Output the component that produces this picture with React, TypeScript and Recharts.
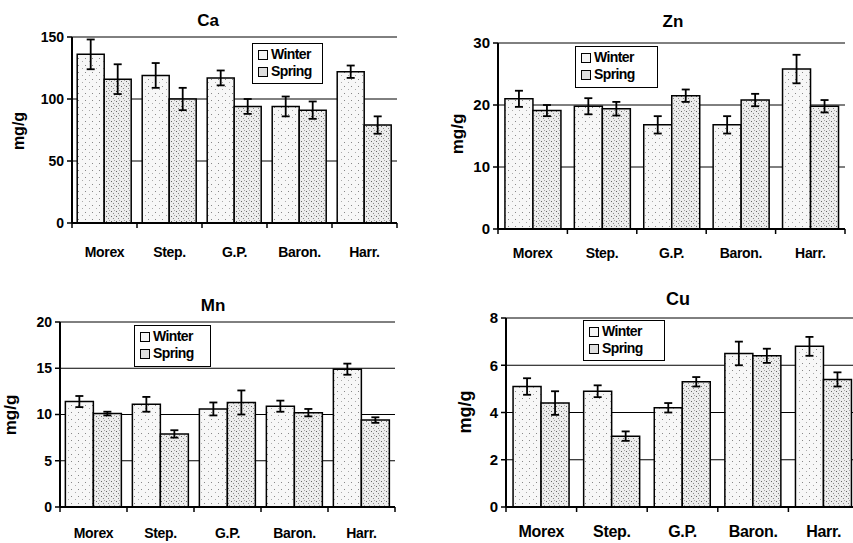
import React from 'react';
import { Bar, BarChart, CartesianGrid, ErrorBar, Legend, XAxis, YAxis } from 'recharts';

const CULTIVARS = ['Morex', 'Step.', 'G.P.', 'Baron.', 'Harr.'];
const SEASONS = ['Winter', 'Spring'];

const CA_WINTER = [136, 119, 117, 94, 122];
const CA_WINTER_ERR = [12, 10, 6, 8, 5];
const CA_SPRING = [116, 100, 94, 91, 79];
const CA_SPRING_ERR = [12, 9, 6, 7, 7];

const ZN_WINTER = [21, 19.8, 16.8, 16.8, 25.8];
const ZN_WINTER_ERR = [1.3, 1.3, 1.4, 1.4, 2.3];
const ZN_SPRING = [19.1, 19.4, 21.5, 20.8, 19.8];
const ZN_SPRING_ERR = [0.9, 1.1, 1.0, 1.0, 1.0];

const MN_WINTER = [11.4, 11.1, 10.6, 10.9, 14.9];
const MN_WINTER_ERR = [0.6, 0.8, 0.7, 0.6, 0.6];
const MN_SPRING = [10.1, 7.9, 11.3, 10.2, 9.4];
const MN_SPRING_ERR = [0.2, 0.4, 1.3, 0.4, 0.3];

const CU_WINTER = [5.1, 4.9, 4.2, 6.5, 6.8];
const CU_WINTER_ERR = [0.35, 0.25, 0.2, 0.5, 0.4];
const CU_SPRING = [4.4, 3.0, 5.3, 6.4, 5.4];
const CU_SPRING_ERR = [0.5, 0.2, 0.2, 0.3, 0.3];

const CA_TICKS = [0, 50, 100, 150];
const ZN_TICKS = [0, 10, 20, 30];
const MN_TICKS = [0, 5, 10, 15, 20];
const CU_TICKS = [0, 2, 4, 6, 8];

const FONT = '"Liberation Sans", Arial, sans-serif';
const WINTER_SWATCH = '#f4f4f4';
const SPRING_SWATCH = '#dedede';

type PanelProps = {
    title: string;
    winter: number[];
    winterErr: number[];
    spring: number[];
    springErr: number[];
    yTicks: number[];
    left: number;
    top: number;
    width: number;
    height: number;
    plotLeft: number;
    plotRight: number;
    plotTop: number;
    plotBottom: number;
    tickFont: number;
    xFont: number;
    xLabelOffset: number;
    titleFont: number;
    titlePos: [number, number];
    yLabelFont: number;
    yLabelPos: [number, number];
    legendBox: [number, number, number, number];
    gap: string;
};

const CultivarTick = (props: any) => {
    const { x, y, payload, index, fontSize, offsetY } = props;
    const half = payload.offset || 0;
    return (
        <g>
            <line x1={x - half} x2={x - half} y1={y} y2={y + 5} stroke="#000" strokeWidth={1.5} />
            {index === CULTIVARS.length - 1 && (
                <line x1={x + half} x2={x + half} y1={y} y2={y + 5} stroke="#000" strokeWidth={1.5} />
            )}
            <text x={x} y={y + offsetY} textAnchor="middle" fontSize={fontSize} fontWeight="bold"
                fontFamily={FONT} fill="#000" letterSpacing={-0.3}>
                {payload.value}
            </text>
        </g>
    );
};

const LegendBox = ({ payload }: any) => {
    const items = [...(payload || [])].sort(
        (a: any, b: any) => SEASONS.indexOf(a.value) - SEASONS.indexOf(b.value)
    );
    return (
        <div style={{
            border: '1.5px solid #000', background: '#fff', padding: '2px 5px',
            fontFamily: FONT, fontWeight: 'bold', fontSize: 14, letterSpacing: -0.6, lineHeight: '17px',
            boxSizing: 'border-box', width: '100%', height: '100%'
        }}>
            {items.map((entry: any) => (
                <div key={entry.value} style={{ display: 'flex', alignItems: 'center' }}>
                    <span style={{
                        display: 'inline-block', width: 8, height: 8, border: '1.5px solid #000', marginRight: 3,
                        background: entry.value === 'Winter' ? WINTER_SWATCH : SPRING_SWATCH
                    }} />
                    {entry.value}
                </div>
            ))}
        </div>
    );
};

const Panel = (p: PanelProps) => {
    const data = CULTIVARS.map((name, i) => ({
        name,
        winter: p.winter[i],
        winterErr: p.winterErr[i],
        spring: p.spring[i],
        springErr: p.springErr[i],
    }));
    const yMax = p.yTicks[p.yTicks.length - 1];
    const [lx, ly, lw, lh] = p.legendBox;

    return (
        <div style={{ position: 'absolute', left: p.left, top: p.top, width: p.width, height: p.height }}>
            <BarChart
                width={p.width}
                height={p.height}
                data={data}
                barGap={0}
                barCategoryGap={p.gap}
                margin={{ top: p.plotTop, right: p.width - p.plotRight, left: 0, bottom: 0 }}
            >
                <CartesianGrid vertical={false} stroke="#000" strokeWidth={1} />
                <XAxis
                    dataKey="name"
                    height={p.height - p.plotBottom}
                    tickSize={0}
                    tickMargin={0}
                    interval={0}
                    axisLine={{ stroke: '#000', strokeWidth: 2 }}
                    tick={(t: any) => <CultivarTick {...t} fontSize={p.xFont} offsetY={p.xLabelOffset} />}
                />
                <YAxis
                    width={p.plotLeft}
                    domain={[0, yMax]}
                    ticks={p.yTicks}
                    interval={0}
                    tickSize={5}
                    tickMargin={3}
                    axisLine={{ stroke: '#000', strokeWidth: 2 }}
                    tickLine={{ stroke: '#000', strokeWidth: 1.5 }}
                    tick={{ fill: '#000', fontSize: p.tickFont, fontWeight: 'bold', fontFamily: FONT }}
                />
                <YAxis
                    yAxisId="frame"
                    orientation="right"
                    width={0}
                    domain={[0, yMax]}
                    tick={false}
                    tickLine={false}
                    axisLine={{ stroke: '#000', strokeWidth: 2 }}
                />
                <Legend
                    layout="vertical"
                    align="center"
                    verticalAlign="middle"
                    wrapperStyle={{ left: lx, top: ly, width: lw, height: lh }}
                    content={(props: any) => <LegendBox payload={props.payload} />}
                />
                <Bar dataKey="winter" name="Winter" fill="url(#stippleWinter)" stroke="#000" strokeWidth={1.5}
                    isAnimationActive={false}>
                    <ErrorBar dataKey="winterErr" width={4} stroke="#000" strokeWidth={1.8} />
                </Bar>
                <Bar dataKey="spring" name="Spring" fill="url(#stippleSpring)" stroke="#000" strokeWidth={1.5}
                    isAnimationActive={false}>
                    <ErrorBar dataKey="springErr" width={4} stroke="#000" strokeWidth={1.8} />
                </Bar>
            </BarChart>
            <div style={{
                position: 'absolute', left: p.titlePos[0], top: p.titlePos[1], transform: 'translate(-50%, -50%)',
                fontFamily: FONT, fontWeight: 'bold', fontSize: p.titleFont, whiteSpace: 'nowrap'
            }}>
                {p.title}
            </div>
            <div style={{
                position: 'absolute', left: p.yLabelPos[0], top: p.yLabelPos[1],
                transform: 'translate(-50%, -50%) rotate(-90deg)',
                fontFamily: FONT, fontWeight: 'bold', fontSize: p.yLabelFont, whiteSpace: 'nowrap'
            }}>
                mg/g
            </div>
        </div>
    );
};

const App = () => {
    return (
        <div style={{ position: 'absolute', left: 0, top: 0, width: 853, height: 543, overflow: 'hidden', background: '#fff' }}>
            <svg width={0} height={0} style={{ position: 'absolute' }}>
                <defs>
                    <pattern id="stippleWinter" width={7} height={7} patternUnits="userSpaceOnUse">
                        <rect width={7} height={7} fill="#f7f7f7" />
                        <rect x={1} y={2} width={1} height={1} fill="#888" />
                        <rect x={5} y={5} width={1} height={1} fill="#aaa" />
                    </pattern>
                    <pattern id="stippleSpring" width={5} height={5} patternUnits="userSpaceOnUse">
                        <rect width={5} height={5} fill="#ececec" />
                        <rect x={1} y={1} width={1} height={1} fill="#666" />
                        <rect x={3} y={3} width={1} height={1} fill="#888" />
                        <rect x={4} y={0} width={1} height={1} fill="#aaa" />
                    </pattern>
                </defs>
            </svg>
            <Panel
                title="Ca" winter={CA_WINTER} winterErr={CA_WINTER_ERR} spring={CA_SPRING} springErr={CA_SPRING_ERR}
                yTicks={CA_TICKS} left={0} top={0} width={430} height={270}
                plotLeft={72} plotRight={397} plotTop={37} plotBottom={223}
                tickFont={14} xFont={14} xLabelOffset={34} titleFont={17} titlePos={[208, 21]}
                yLabelFont={16} yLabelPos={[19, 131]} legendBox={[252, 43, 71, 41]} gap="8%"
            />
            <Panel
                title="Zn" winter={ZN_WINTER} winterErr={ZN_WINTER_ERR} spring={ZN_SPRING} springErr={ZN_SPRING_ERR}
                yTicks={ZN_TICKS} left={430} top={0} width={423} height={270}
                plotLeft={68} plotRight={415} plotTop={43} plotBottom={229}
                tickFont={15} xFont={14} xLabelOffset={29} titleFont={17} titlePos={[243, 22]}
                yLabelFont={17} yLabelPos={[28, 134]} legendBox={[145, 46, 83, 42]} gap="10%"
            />
            <Panel
                title="Mn" winter={MN_WINTER} winterErr={MN_WINTER_ERR} spring={MN_SPRING} springErr={MN_SPRING_ERR}
                yTicks={MN_TICKS} left={0} top={270} width={430} height={273}
                plotLeft={60} plotRight={395} plotTop={52} plotBottom={237}
                tickFont={14} xFont={14} xLabelOffset={31} titleFont={17} titlePos={[213, 36]}
                yLabelFont={17} yLabelPos={[11, 145]} legendBox={[134, 55, 77, 42]} gap="8%"
            />
            <Panel
                title="Cu" winter={CU_WINTER} winterErr={CU_WINTER_ERR} spring={CU_SPRING} springErr={CU_SPRING_ERR}
                yTicks={CU_TICKS} left={430} top={270} width={440} height={273}
                plotLeft={76} plotRight={429} plotTop={48} plotBottom={237}
                tickFont={15} xFont={16} xLabelOffset={30} titleFont={18} titlePos={[248, 29]}
                yLabelFont={18} yLabelPos={[35, 142]} legendBox={[153, 50, 82, 41]} gap="10%"
            />
        </div>
    );
};

export default App;
